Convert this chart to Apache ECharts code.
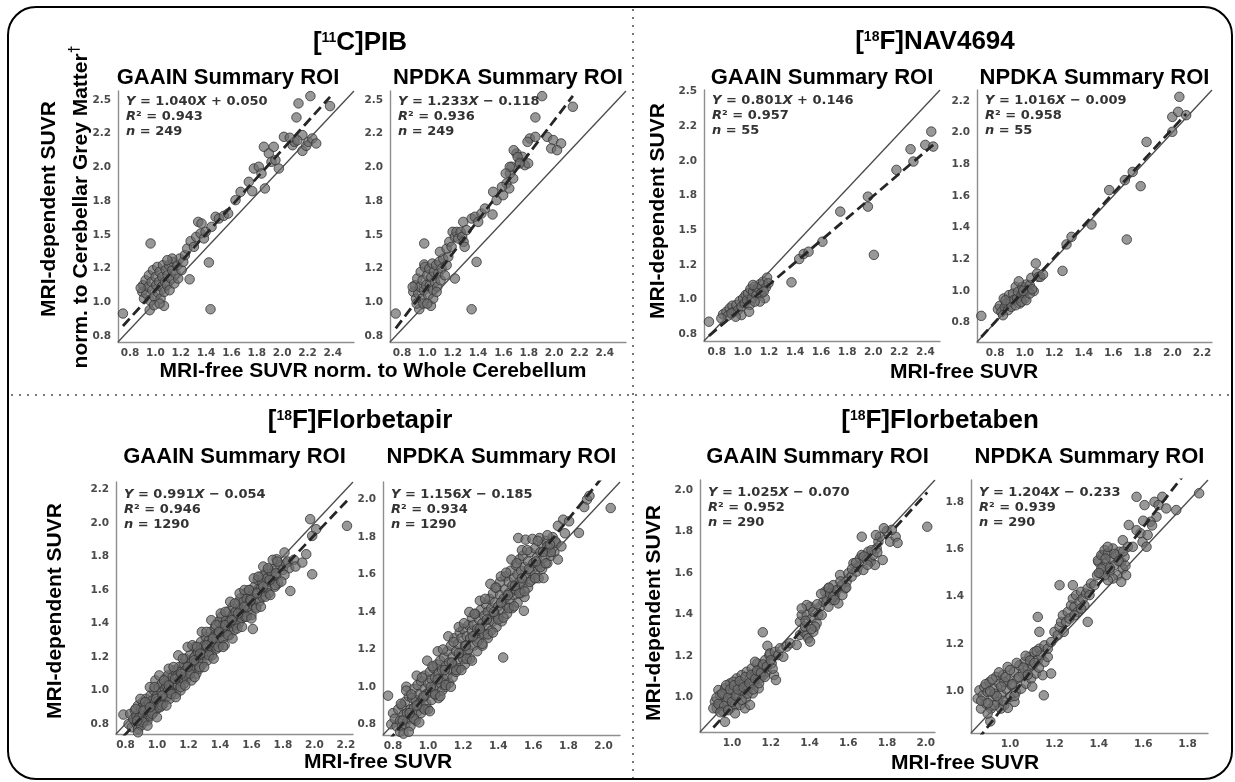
<!DOCTYPE html>
<html><head><meta charset="utf-8">
<script src="https://cdn.jsdelivr.net/npm/echarts@6/dist/echarts.min.js"></script>
<style>html,body{margin:0;padding:0;background:#fff}#c{width:1235px;height:782px}</style>
</head><body><div id="c"></div>
<script>
// ---------------- DATA ----------------
const tracers = ['[11C]PIB', '[18F]NAV4694', '[18F]Florbetapir', '[18F]Florbetaben'];
const roiNames = ['GAAIN Summary ROI', 'NPDKA Summary ROI'];
// shared x/y limits of each panel (A..H)
const limits = [[0.705,2.567],[0.705,2.567],[0.702,2.512],[0.677,2.268],[0.740,2.245],[0.743,2.094],[0.835,2.048],[0.824,1.892]];
const xTickVals = [
  [0.8,1.0,1.2,1.4,1.6,1.8,2.0,2.2,2.4],[0.8,1.0,1.2,1.4,1.6,1.8,2.0,2.2,2.4],[0.8,1.0,1.2,1.4,1.6,1.8,2.0,2.2,2.4],
  [0.8,1.0,1.2,1.4,1.6,1.8,2.0,2.2],[0.8,1.0,1.2,1.4,1.6,1.8,2.0,2.2],[0.8,1.0,1.2,1.4,1.6,1.8,2.0],
  [1.0,1.2,1.4,1.6,1.8,2.0],[1.0,1.2,1.4,1.6,1.8]];
const yTickVals = [
  [0.75,1.0,1.25,1.5,1.75,2.0,2.25,2.5],[0.75,1.0,1.25,1.5,1.75,2.0,2.25,2.5],[0.75,1.0,1.25,1.5,1.75,2.0,2.25,2.5],
  [0.8,1.0,1.2,1.4,1.6,1.8,2.0,2.2],[0.8,1.0,1.2,1.4,1.6,1.8,2.0,2.2],[0.8,1.0,1.2,1.4,1.6,1.8,2.0],
  [1.0,1.2,1.4,1.6,1.8,2.0],[1.0,1.2,1.4,1.6,1.8]];
const quarterTickText = ['0.8','1.0','1.2','1.5','1.8','2.0','2.2','2.5'];
const slopes = [1.040, 1.233, 0.801, 1.016, 0.991, 1.156, 1.025, 1.204];
const intercepts = [0.050, -0.118, 0.146, -0.009, -0.054, -0.185, -0.070, -0.233];
const r2Values = [0.943, 0.936, 0.957, 0.958, 0.946, 0.934, 0.952, 0.939];
const nValues = [249, 249, 55, 55, 1290, 1290, 290, 290];

const pibGaain = [[0.744,0.916],[0.962,1.436],[0.955,0.941],[1.068,0.973],[1.435,0.948],[1.422,1.295],[1.27,1.17],
[0.897,1.077],[0.902,1.126],[0.910,1.027],[0.923,1.163],[0.928,1.064],[0.944,1.114],[0.949,1.200],[0.955,1.015],[0.970,1.151],[0.976,1.089],[0.981,1.238],[0.991,1.040],[1.002,1.188],[1.007,1.126],[1.015,1.262],[1.018,1.072],[1.028,1.151],[1.033,1.225],[1.041,1.027],[1.049,1.114],[1.054,1.188],[1.060,1.275],[1.070,1.077],[1.075,1.151],[1.081,1.238],[1.091,1.126],[1.096,1.200],[1.107,1.275],[1.112,1.089],[1.123,1.176],[1.133,1.238],[1.138,1.299],[1.149,1.139],[1.159,1.213],[1.173,1.275],[1.180,1.176],[1.191,1.324],[1.207,1.238],[1.220,1.299],[1.233,1.349],[0.989,0.978],[1.033,0.990],[0.884,1.106],[1.133,1.324],[1.094,1.312],
[1.251,1.398],[1.278,1.453],[1.304,1.411],[1.322,1.485],[1.338,1.596],[1.364,1.584],[1.357,1.51],[1.383,1.473],[1.396,1.522],[1.443,1.559],[1.475,1.634],[1.501,1.621],[1.540,1.641],[1.574,1.658],[1.632,1.757],[1.672,1.819],[1.737,1.893],[1.764,1.824],[1.777,1.992],[1.816,2.005],[1.837,1.955],[1.856,2.153],[1.864,1.844],[1.895,2.104],[1.916,2.042],[1.934,2.153],[1.947,2.054],[1.974,1.992],
[2.014,2.227],[2.082,2.165],[2.098,2.19],[2.113,2.371],[2.129,2.475],[2.16,2.24],[2.16,2.123],[2.19,2.16],[2.207,2.19],[2.223,2.529],[2.238,2.215],[2.269,2.178],[2.378,2.455],[2.06,2.22],[2.12,2.2]];

const pibNpdka = [[0.750,0.916],[0.936,0.948],[1.028,0.973],[1.349,0.948],[0.975,1.436],[0.975,1.28],[1.217,1.176],[1.388,1.299],
[0.889,1.077],[0.902,1.126],[0.910,1.027],[0.920,1.176],[0.928,1.064],[0.941,1.114],[0.947,1.225],[0.957,1.027],[0.962,1.163],[0.973,1.089],[0.981,1.262],[0.989,1.126],[0.999,1.200],[1.007,1.052],[1.015,1.25],[1.020,1.126],[1.031,1.188],[1.039,1.287],[1.046,1.089],[1.052,1.225],[1.060,1.151],[1.068,1.275],[1.078,1.114],[1.086,1.213],[1.094,1.299],[1.104,1.163],[1.112,1.25],[1.125,1.324],[1.138,1.200],[1.152,1.275],[0.915,0.990],[0.968,0.990],[1.046,1.027],[0.884,1.114],[0.999,0.990],[1.073,1.077],[1.165,1.337],[1.099,1.374],
[1.152,1.398],[1.173,1.448],[1.191,1.411],[1.199,1.522],[1.217,1.485],[1.230,1.522],[1.243,1.473],[1.262,1.522],[1.275,1.485],[1.286,1.448],[1.294,1.411],[1.283,1.596],[1.309,1.535],[1.349,1.621],[1.375,1.634],[1.401,1.596],[1.427,1.658],[1.454,1.695],[1.514,1.651],[1.519,1.819],[1.546,1.757],[1.598,1.794],[1.624,1.881],[1.651,1.955],[1.664,2.005],[1.646,1.844],[1.677,1.918],[1.703,2.104],[1.729,2.042],[1.750,2.079],[1.769,2.017],[1.795,2.030],[1.808,2.215],
[1.852,2.371],[1.852,2.227],[1.905,2.529],[1.945,2.227],[1.993,2.203],[1.977,2.141],[2.055,2.178],[2.023,2.128],[2.148,2.45],[1.79,2.19],[1.681,2.128],[1.712,2.078],[1.65,2.004],[1.618,1.955],[1.588,1.855],[1.728,2.03]];

const navGaain = [[0.740,0.841],[0.848,0.894],[0.874,0.913],[0.899,0.938],[0.920,0.957],[0.886,0.885],[0.930,0.913],[0.950,0.962],[0.963,0.925],[0.976,0.990],[0.989,0.950],[1.002,1.010],[1.014,0.974],[1.022,1.034],[1.032,0.998],[1.040,1.046],[1.053,0.962],[1.058,1.077],[1.068,1.010],[1.078,1.058],[1.091,1.094],[1.104,1.034],[1.117,1.082],[1.130,1.111],[1.142,1.046],[1.155,1.130],[1.168,1.010],[1.176,1.087],[1.186,1.159],[1.196,1.118],[1.130,0.986],[1.091,0.986],[0.989,0.889],[0.945,0.877],[1.048,0.913],[1.160,1.058],[0.835,0.865],[0.912,0.901],[1.078,1.106],
[1.373,1.125],[1.432,1.293],[1.467,1.33],[1.504,1.346],[1.61,1.418],[1.747,1.635],[1.959,1.743],[1.959,1.671],[2.005,1.323],[2.178,1.936],[2.286,2.085],[2.308,1.996],[2.399,2.116],[2.445,2.212],[2.46,2.104]];

const navNpdka = [[0.706,0.842],[0.819,0.884],[0.831,0.905],[0.842,0.867],[0.858,0.952],[0.865,0.899],[0.876,0.920],[0.887,0.878],[0.894,0.973],[0.903,0.931],[0.910,0.899],[0.921,0.983],[0.926,0.941],[0.939,1.025],[0.948,0.952],[0.955,0.994],[0.966,0.920],[0.978,0.973],[0.984,1.025],[0.993,0.983],[1.000,0.952],[1.011,1.040],[1.023,1.004],[1.034,1.036],[1.045,1.082],[1.061,0.998],[1.075,1.173],[1.084,1.109],[1.093,1.088],[1.106,1.088],[1.124,1.103],[0.939,0.909],[0.978,0.931],[1.011,0.941],[0.853,0.846],[1.034,0.983],[0.96,1.06],[1.05,1.01],[0.99,1.00],[0.87,0.94],
[1.256,1.126],[1.283,1.293],[1.317,1.341],[1.452,1.419],[1.572,1.636],[1.691,1.324],[1.785,1.661],[1.731,1.751],[1.825,1.94],[1.999,2.004],[1.999,2.098],[2.039,2.13],[2.047,2.225],[2.093,2.109],[1.678,1.699]];

const fbpGaain = [[0.787,0.856],[0.861,0.816],
[0.82,0.80],[0.83,0.86],[0.84,0.78],[0.85,0.83],[0.86,0.88],[0.87,0.80],[0.87,0.85],[0.88,0.91],[0.88,0.77],
[0.89,0.84],[0.90,0.89],[0.90,0.79],[0.91,0.93],[0.91,0.85],[0.92,0.82],[0.93,0.90],[0.93,0.95],[0.94,0.86],[0.94,0.82],[0.95,0.92],[0.95,0.88],
[0.96,0.97],[0.96,0.85],[0.97,0.91],[0.97,0.94],[0.98,0.87],[0.98,1.00],[0.99,0.93],[1.00,0.97],[1.00,0.89],[1.01,1.02],[1.01,0.94],[1.02,0.90],[0.99,1.06],
[1.03,0.99],[1.03,1.04],[1.04,0.95],[1.04,0.92],[1.05,1.01],[1.05,1.07],[1.06,0.96],[1.06,1.03],[1.07,1.00],[1.07,1.09],[1.08,0.95],[1.08,1.05],
[1.09,1.02],[1.10,1.08],[1.10,0.99],[1.11,1.12],[1.11,1.04],[1.12,0.98],[1.13,1.09],[1.13,1.03],[1.14,1.14],[1.14,1.06],[1.15,1.00],[1.15,1.11],
[1.16,1.08],[1.17,1.16],[1.17,1.04],[1.18,1.12],[1.18,1.19],[1.19,1.07],[1.20,1.15],[1.20,1.09],[1.21,1.21],[1.21,1.12],[1.22,1.06],[1.22,1.17],
[1.23,1.14],[1.24,1.20],[1.24,1.26],[1.25,1.10],[1.25,1.17],[1.26,1.23],[1.27,1.19],[1.27,1.13],[1.28,1.25],[1.28,1.29],[1.29,1.21],[1.29,1.16],
[1.30,1.27],[1.31,1.22],[1.31,1.32],[1.32,1.18],[1.32,1.26],[1.33,1.30],[1.34,1.24],[1.34,1.35],[1.35,1.29],[1.35,1.21],[1.36,1.32],[1.36,1.27],
[1.37,1.38],[1.38,1.30],[1.38,1.25],[1.39,1.34],[1.39,1.41],[1.40,1.29],[1.41,1.36],[1.41,1.44],[1.42,1.31],[1.42,1.39],[1.43,1.27],[1.43,1.35],
[1.44,1.42],[1.45,1.37],[1.45,1.47],[1.46,1.33],[1.46,1.41],[1.47,1.38],[1.48,1.45],[1.48,1.50],[1.49,1.36],[1.49,1.42],[1.50,1.47],[1.50,1.39],
[1.51,1.52],[1.52,1.44],[1.52,1.40],[1.53,1.49],[1.53,1.55],[1.54,1.43],[1.55,1.47],[1.55,1.53],[1.56,1.58],[1.56,1.44],[1.57,1.50],[1.57,1.55],
[1.58,1.48],[1.59,1.53],[1.59,1.60],[1.60,1.45],[1.60,1.56],[1.609,1.367],[1.61,1.51],[1.62,1.62],[1.63,1.55],[1.63,1.50],[1.64,1.59],[1.64,1.66],[1.65,1.53],
[1.66,1.61],[1.66,1.68],[1.67,1.56],[1.67,1.64],[1.68,1.59],[1.69,1.70],[1.70,1.62],[1.70,1.67],[1.71,1.72],[1.71,1.58],[1.72,1.65],[1.73,1.70],
[1.74,1.66],[1.75,1.73],[1.75,1.62],[1.76,1.69],[1.77,1.64],[1.78,1.75],[1.80,1.72],[1.81,1.824],[1.82,1.76],[1.83,1.77],[1.84,1.73],[1.81,1.69],[1.847,1.594],
[1.87,1.78],[1.88,1.74],[1.923,1.764],[1.948,1.814],[1.986,1.694],[1.986,1.923],[2.011,1.963],[1.973,2.023],[1.76,1.784],[2.207,1.983],
[0.865,0.89],[0.895,0.95],[0.925,0.93],[0.955,1.02],[0.985,1.02],[1.015,1.09],[1.045,1.06],[1.075,1.13],[1.105,1.14],[1.135,1.21],[1.165,1.19],[1.195,1.26],
[1.225,1.27],[1.255,1.26],[1.285,1.35],[1.315,1.35],[1.345,1.42],[1.375,1.39],[1.405,1.46],[1.435,1.47],[1.465,1.53],[1.495,1.52],[1.525,1.58],[1.555,1.60],
[1.585,1.60],[1.615,1.67],[1.645,1.68],[1.675,1.74],[1.705,1.73],[1.735,1.78],[1.765,1.77],
[0.88,0.75],[0.91,0.81],[0.94,0.79],[0.97,0.86],[1.00,0.84],[1.03,0.91],[1.06,0.91],[1.09,0.98],[1.12,0.96],[1.15,1.02],[1.18,1.03],[1.21,1.10],
[1.24,1.08],[1.27,1.14],[1.30,1.14],[1.33,1.21],[1.36,1.19],[1.39,1.26],[1.42,1.26],[1.45,1.33],[1.48,1.31],[1.51,1.37],[1.54,1.38],[1.57,1.44],
[1.60,1.43],[1.63,1.49],[1.66,1.50],[1.69,1.56],[1.72,1.57],[1.75,1.63],[1.79,1.65],
[0.875,0.82],[0.915,0.88],[0.955,0.90],[0.995,0.95],[1.035,0.97],[1.075,1.03],[1.115,1.07],[1.155,1.10],[1.195,1.14],[1.235,1.18],[1.275,1.22],[1.315,1.27],
[1.355,1.31],[1.395,1.35],[1.435,1.39],[1.475,1.42],[1.515,1.46],[1.555,1.50],[1.595,1.54],[1.635,1.58],[1.675,1.62],[1.715,1.66],[1.755,1.70]];

const fbpNpdka = [[0.772,0.953],[0.876,1.001],
[0.79,0.80],[0.80,0.86],[0.82,0.79],[0.81,0.83],[0.83,0.88],[0.84,0.82],[0.84,0.76],[0.85,0.90],[0.85,0.79],[0.86,0.85],
[0.87,0.92],[0.87,0.80],[0.88,0.86],[0.89,0.83],[0.89,0.95],[0.90,0.88],[0.90,0.79],[0.91,0.94],[0.91,0.84],[0.92,0.99],[0.92,0.89],
[0.93,0.82],[0.93,0.93],[0.94,0.87],[0.94,1.01],[0.95,0.91],[0.95,0.96],[0.96,0.86],[0.96,1.03],[0.97,0.94],[0.97,0.89],[0.98,0.99],[0.98,1.06],
[0.99,0.91],[0.99,0.96],[1.00,1.02],[1.00,0.88],[1.01,0.97],[1.01,1.08],[1.02,0.93],[1.02,1.04],[1.03,0.99],[1.03,1.10],[1.04,0.96],[1.04,1.05],
[1.05,1.00],[1.05,1.12],[1.06,0.94],[1.06,1.07],[1.07,1.02],[1.07,1.14],[1.08,0.98],[1.08,1.09],[1.09,1.04],[1.09,1.16],[1.10,1.00],[1.10,1.11],
[1.11,1.06],[1.11,1.19],[1.12,1.13],[1.12,1.02],[1.13,1.09],[1.13,1.22],[1.14,1.16],[1.14,1.05],[1.15,1.11],[1.15,1.26],[1.16,1.08],[1.16,1.19],
[1.17,1.13],[1.17,1.23],[1.18,1.29],[1.18,1.10],[1.19,1.18],[1.19,1.26],[1.20,1.15],[1.20,1.31],[1.21,1.22],[1.21,1.12],[1.22,1.27],[1.22,1.18],
[1.23,1.33],[1.23,1.20],[1.24,1.26],[1.24,1.15],[1.25,1.30],[1.25,1.37],[1.26,1.22],[1.26,1.33],[1.27,1.28],[1.27,1.39],[1.28,1.19],[1.28,1.31],
[1.29,1.36],[1.29,1.25],[1.30,1.41],[1.30,1.30],[1.31,1.22],[1.31,1.34],[1.32,1.38],[1.32,1.28],[1.33,1.44],[1.33,1.33],[1.34,1.26],[1.34,1.40],
[1.35,1.47],[1.35,1.36],[1.36,1.30],[1.36,1.42],[1.37,1.50],[1.37,1.35],[1.38,1.45],[1.38,1.39],[1.39,1.32],[1.39,1.53],[1.40,1.43],[1.40,1.37],
[1.41,1.49],[1.41,1.56],[1.42,1.41],[1.42,1.35],[1.43,1.47],[1.428,1.157],[1.44,1.52],[1.44,1.59],[1.45,1.43],[1.45,1.39],[1.46,1.50],[1.46,1.56],
[1.47,1.46],[1.47,1.62],[1.48,1.54],[1.48,1.42],[1.49,1.58],[1.49,1.49],[1.50,1.65],[1.50,1.52],[1.51,1.45],[1.51,1.60],[1.52,1.56],[1.52,1.68],
[1.53,1.50],[1.53,1.62],[1.54,1.55],[1.54,1.70],[1.55,1.48],[1.55,1.64],[1.56,1.59],[1.57,1.67],[1.57,1.53],[1.58,1.62],[1.58,1.72],[1.59,1.57],
[1.60,1.66],[1.61,1.60],[1.61,1.74],[1.62,1.69],[1.63,1.58],[1.63,1.65],[1.64,1.72],[1.65,1.76],[1.65,1.63],[1.66,1.69],[1.67,1.78],[1.68,1.66],
[1.69,1.74],[1.70,1.70],[1.71,1.80],[1.72,1.72],[1.73,1.77],[1.74,1.68],
[1.546,1.406],[1.514,1.795],[1.556,1.786],[1.635,1.795],[1.68,1.81],[1.68,1.75],[1.725,1.777],[1.77,1.893],[1.804,1.884],[1.86,1.822],[1.906,2.0],[2.041,1.955],[1.658,1.581],[1.76,1.75],[1.78,1.82],[1.74,1.86],[1.92,2.02],[1.89,1.96],
[0.845,0.91],[0.875,0.98],[0.905,0.96],[0.935,1.06],[0.965,1.05],[0.995,1.14],[1.025,1.11],[1.055,1.19],[1.085,1.20],[1.115,1.27],[1.145,1.24],[1.175,1.32],
[1.205,1.34],[1.235,1.40],[1.265,1.39],[1.295,1.46],[1.325,1.47],[1.355,1.55],[1.385,1.53],[1.415,1.59],[1.445,1.61],[1.475,1.68],[1.505,1.66],[1.535,1.73],
[1.565,1.73],[1.595,1.79],[1.625,1.78],
[0.86,0.75],[0.89,0.76],[0.92,0.83],[0.95,0.81],[0.98,0.88],[1.01,0.87],[1.04,0.96],[1.07,0.95],[1.10,1.01],[1.13,1.00],[1.16,1.09],[1.19,1.09],
[1.22,1.15],[1.25,1.14],[1.28,1.24],[1.31,1.23],[1.34,1.28],[1.37,1.29],[1.40,1.36],[1.43,1.37],[1.46,1.42],[1.49,1.43],[1.52,1.50],[1.55,1.51],
[1.58,1.56],[1.61,1.58],[1.64,1.64],[1.67,1.66],[1.70,1.72],
[0.855,0.82],[0.895,0.86],[0.935,0.90],[0.975,0.95],[1.015,1.00],[1.055,1.04],[1.095,1.09],[1.135,1.13],[1.175,1.18],[1.215,1.22],[1.255,1.27],[1.295,1.31],
[1.335,1.36],[1.375,1.40],[1.415,1.45],[1.455,1.49],[1.495,1.54],[1.535,1.58],[1.575,1.63],[1.615,1.67],[1.655,1.72],[1.695,1.76]];

const fbbGaain = [[0.912,0.981],[0.921,0.949],[0.930,1.037],[0.938,0.965],[0.947,1.005],[0.955,0.933],[0.964,1.045],[0.973,0.981],[0.981,1.021],[0.990,0.949],[0.990,1.069],[0.998,0.997],[1.007,1.037],[1.016,0.965],[1.024,1.093],[1.028,1.013],[1.038,1.061],[1.042,0.965],[1.050,1.109],[1.055,1.021],[1.062,1.069],[1.072,0.997],[1.076,1.125],[1.085,1.045],[1.093,1.093],[1.102,1.141],[1.107,1.021],[1.114,1.069],[1.124,1.117],[1.131,1.165],[1.138,1.045],[1.145,1.093],[1.153,1.149],[1.162,1.109],[1.171,1.181],[1.179,1.125],[1.193,1.205],[1.205,1.165],[1.217,1.109],[1.227,1.085],[0.964,0.884],[1.016,0.925],[0.904,0.949],[1.067,0.949],[1.093,0.965],[0.938,1.013],[1.007,1.077],[1.119,1.173],
[1.159,1.315],[1.183,1.25],
[1.196,1.213],[1.222,1.221],[1.239,1.205],[1.248,1.238],[1.265,1.197],[1.282,1.246],[1.300,1.262],[1.334,1.254],[1.351,1.302],[1.369,1.318],[1.351,1.366],[1.360,1.398],[1.386,1.398],[1.403,1.438],[1.412,1.382],[1.420,1.414],[1.386,1.302],[1.394,1.286],[1.420,1.318],[1.437,1.358],[1.446,1.398],[1.455,1.438],[1.472,1.462],[1.480,1.51],[1.489,1.478],[1.498,1.526],[1.506,1.502],[1.523,1.542],[1.532,1.494],[1.541,1.518],[1.558,1.591],[1.566,1.542],[1.584,1.526],[1.592,1.559],[1.601,1.599],[1.618,1.583],[1.627,1.647],[1.644,1.607],[1.652,1.631],[1.661,1.671],[1.670,1.687],[1.678,1.615],[1.696,1.663],[1.704,1.703],[1.716,1.655],[1.730,1.687],[1.738,1.639],[1.747,1.719],[1.756,1.751],[1.764,1.775],[1.778,1.663],[1.670,1.775],[1.799,1.802],[1.816,1.751],
[1.377,1.342],[1.429,1.342],[1.403,1.27],[1.386,1.446],[1.463,1.398],[1.515,1.47],[1.549,1.454],[1.57,1.494],[1.498,1.438],[1.523,1.486],
[2.008,1.823],[1.845,1.775],[1.855,1.745],[1.825,1.808],[1.784,1.816],[1.743,1.783],
[0.92,1.00],[0.93,0.97],[0.95,1.02],[0.96,0.96],[0.97,1.06],[0.98,1.00],[0.99,1.04],[1.00,0.98],[1.01,1.06],[1.02,1.01],[1.03,1.04],[1.04,1.08],[1.05,0.99],
[1.06,1.05],[1.07,1.10],[1.08,1.02],[1.09,1.07],[1.10,1.11],[1.11,1.04],[1.12,1.09],[1.13,1.13],[1.14,1.07],[1.15,1.12],[1.16,1.16],[1.17,1.10],[1.18,1.15],
[1.20,1.18],[1.21,1.14],[0.94,0.93],[0.98,0.94],
[1.44,1.45],[1.46,1.50],[1.50,1.53],[1.53,1.47],[1.56,1.56],[1.59,1.53],[1.62,1.62],[1.64,1.65],[1.68,1.68],[1.70,1.64],[1.72,1.71],[1.75,1.70],[1.38,1.37],[1.41,1.33],[1.36,1.43]];

const fbbNpdka = [[0.854,0.969],[0.862,1.004],[0.869,0.927],[0.877,0.983],[0.884,1.018],[0.892,0.948],[0.899,0.997],[0.907,1.039],[0.914,0.927],[0.922,0.976],[0.929,1.011],[0.937,1.061],[0.944,0.955],[0.952,1.032],[0.959,0.990],[0.967,1.068],[0.974,0.941],[0.982,1.011],[0.989,1.103],[0.992,1.046],[1.001,0.976],[1.007,1.025],[1.017,1.082],[1.027,0.997],[1.035,1.054],[1.042,1.110],[1.050,1.011],[1.057,1.075],[1.065,1.124],[1.072,1.032],[1.080,1.096],[1.087,1.145],[1.095,1.054],[1.102,1.110],[1.110,1.166],[1.117,1.075],[1.125,1.131],[1.132,1.180],[1.147,1.068],[0.911,0.873],[0.899,0.906],[0.959,0.927],[1.020,0.955],[0.929,0.941],[0.974,1.039],[1.140,1.152],[1.155,1.124],[1.170,1.145],
[1.125,1.314],[1.132,1.251],[1.223,1.448],[1.283,1.448],[1.185,1.075],[1.152,0.983],
[1.155,1.194],[1.170,1.180],[1.185,1.208],[1.200,1.251],[1.215,1.237],[1.223,1.272],[1.230,1.293],[1.238,1.321],[1.242,1.251],[1.253,1.293],[1.260,1.335],[1.268,1.307],[1.275,1.363],[1.283,1.391],[1.290,1.356],[1.298,1.406],[1.305,1.335],[1.313,1.377],[1.320,1.420],[1.328,1.391],[1.335,1.363],[1.343,1.413],[1.350,1.434],[1.358,1.406],[1.365,1.455],[1.350,1.293],[1.380,1.448],[1.392,1.490],[1.398,1.546],[1.408,1.497],[1.418,1.575],[1.29,1.321],[1.32,1.349],
[1.396,1.553],[1.411,1.575],[1.418,1.525],[1.426,1.596],[1.433,1.539],[1.441,1.582],[1.448,1.504],[1.456,1.560],[1.463,1.603],[1.471,1.532],[1.478,1.575],[1.486,1.490],[1.493,1.589],[1.501,1.546],[1.508,1.518],[1.516,1.567],[1.523,1.490],[1.531,1.610],[1.501,1.462],[1.463,1.476],[1.441,1.469],[1.426,1.490],[1.411,1.518],
[1.570,1.821],[1.606,1.786],[1.651,1.800],[1.669,1.786],[1.686,1.821],[1.704,1.772],[1.660,1.737],[1.633,1.716],[1.749,1.765],[1.852,1.836],[1.588,1.667],[1.57,1.68],[1.535,1.702],[1.553,1.61],[1.597,1.631],[1.508,1.638],[1.615,1.61],
[0.87,0.96],[0.89,1.03],[0.90,0.95],[0.92,1.05],[0.93,0.99],[0.95,1.08],[0.96,1.02],[0.97,0.96],[0.98,1.06],[1.00,1.09],[1.01,1.03],[1.02,0.98],[1.03,1.12],
[1.04,1.06],[1.06,1.10],[1.07,1.15],[1.08,1.07],[1.09,1.13],[1.10,1.02],[1.11,1.12],[1.12,1.17],[1.13,1.10],[0.94,0.98],[0.91,1.00],[0.99,0.93],
[1.43,1.56],[1.45,1.52],[1.47,1.58],[1.49,1.55],[1.51,1.59],[1.44,1.61],[1.40,1.50],[1.52,1.53],[1.62,1.66],[1.64,1.70],[1.60,1.72]];

const panelData = [pibGaain, pibNpdka, navGaain, navNpdka, fbpGaain, fbpNpdka, fbbGaain, fbbNpdka];

// ---------------- LAYOUT ----------------
const grids = [
  {left:118, top:91, width:236, height:251},
  {left:390, top:91, width:236, height:251},
  {left:704, top:90, width:236, height:251},
  {left:977, top:90, width:235, height:252},
  {left:116, top:482, width:237, height:252},
  {left:383, top:482, width:237, height:253},
  {left:700, top:480, width:235, height:252},
  {left:971, top:480, width:237, height:253}
];
const tickFont = {fontFamily:'DejaVu Sans', fontWeight:'bold', fontSize:10.5, color:'#4a4a4a'};
const headFont = '"Liberation Sans", Arial, sans-serif';

function labeler(vals, texts) {
  return function (v) {
    for (let k = 0; k < vals.length; k++) {
      if (Math.abs(vals[k] - v) < 1e-6) return texts ? texts[k] : vals[k].toFixed(1);
    }
    return '';
  };
}

const xAxes = [], yAxes = [], series = [], graphics = [];
for (let i = 0; i < 8; i++) {
  const lim = limits[i];
  const axisLine = {show:true, onZero:false, lineStyle:{color:'#8e8e8e', width:1.4}};
  xAxes.push({gridIndex:i, type:'value', min:lim[0], max:lim[1], axisLine, axisTick:{show:false}, splitLine:{show:false},
    axisLabel:Object.assign({customValues:xTickVals[i], margin:6, formatter:labeler(xTickVals[i], null)}, tickFont)});
  yAxes.push({gridIndex:i, type:'value', min:lim[0], max:lim[1], axisLine, axisTick:{show:false}, splitLine:{show:false},
    axisLabel:Object.assign({customValues:yTickVals[i], margin:7, formatter:labeler(yTickVals[i], i < 3 ? quarterTickText : null)}, tickFont)});
  // identity line
  series.push({type:'line', xAxisIndex:i, yAxisIndex:i, data:[[lim[0],lim[0]],[lim[1],lim[1]]], symbol:'none', silent:true,
    lineStyle:{color:'#4a4a4a', width:1.3}, z:2, animation:false});
  series.push({type:'scatter', xAxisIndex:i, yAxisIndex:i, data:panelData[i], symbolSize:9.5, silent:true,
    itemStyle:{color:'rgba(108,108,108,0.88)', borderColor:'#333', borderWidth:1}, z:3, animation:false});
  const xs = panelData[i].map(p => p[0]);
  const x0 = Math.min.apply(null, xs), x1 = Math.max.apply(null, xs);
  series.push({type:'line', xAxisIndex:i, yAxisIndex:i, clip:true, symbol:'none', silent:true,
    data:[[x0, slopes[i]*x0 + intercepts[i]],[x1, slopes[i]*x1 + intercepts[i]]],
    lineStyle:{color:'#262626', width:2.8, type:[10,5]}, z:4, animation:false});
  // annotation
  const g = grids[i];
  const b = intercepts[i];
  const eq = '{i|Y}{t| = ' + slopes[i].toFixed(3) + '}{i|X}{t| ' + (b < 0 ? '\u2212' : '+') + ' ' + Math.abs(b).toFixed(3) + '}';
  const rr = '{i|R}{t|\u00b2 = ' + r2Values[i].toFixed(3) + '}';
  const nn = '{i|n}{t| = ' + nValues[i] + '}';
  const tStyle = {fontFamily:'DejaVu Sans', fontWeight:'bold', fontSize:13, fill:'#333', lineHeight:15};
  const iStyle = Object.assign({}, tStyle, {fontStyle:'italic'});
  graphics.push({type:'text', x:g.left + 8, y:g.top + (i < 4 ? 3 : 5), z:10,
    style:{text: eq + '\n' + rr + '\n' + nn, rich:{t:tStyle, i:iStyle}, fontFamily:'DejaVu Sans', fontWeight:'bold', fontSize:13, lineHeight:15, fill:'#333'}});
  // subtitle
  graphics.push({type:'text', x:(i === 0 ? 228 : g.left + g.width/2), y:(i < 4 ? 78 : 457), z:10,
    style:{text: roiNames[i % 2], fontFamily:headFont, fontWeight:'bold', fontSize:22, fill:'#000', align:'center', verticalAlign:'middle'}});
}

// tracer titles with superscripts
const titlePos = [[360,43],[935,42],[360,421],[940,421]];
tracers.forEach((t, k) => {
  const m = t.match(/^\[(\d+)([A-Z])\](.*)$/);
  const big = {fontFamily:headFont, fontWeight:'bold', fontSize:26, fill:'#000', lineHeight:30};
  const sup = {fontFamily:headFont, fontWeight:'bold', fontSize:14, fill:'#000', lineHeight:30, verticalAlign:'top', padding:[3,0,0,0]};
  graphics.push({type:'text', x:titlePos[k][0], y:titlePos[k][1], z:10,
    style:{text:'{b|[}{s|' + m[1] + '}{b|' + m[2] + ']' + m[3] + '}', rich:{b:big, s:sup}, align:'center', verticalAlign:'middle'}});
});

// axis titles
const axFont = {fontFamily:headFont, fontWeight:'bold', fontSize:21, fill:'#000', align:'center', verticalAlign:'middle'};
[[49,209,'MRI-dependent SUVR'],[658,211,'MRI-dependent SUVR'],[55,611,'MRI-dependent SUVR'],[654,613,'MRI-dependent SUVR']].forEach(a => {
  graphics.push({type:'text', x:a[0], y:a[1], rotation:Math.PI/2, z:10, style:Object.assign({text:a[2]}, axFont)});
});
graphics.push({type:'text', x:81, y:207, rotation:Math.PI/2, z:10,
  style:{text:'{a|norm. to Cerebellar Grey Matter}{d|\u2020}', align:'center', verticalAlign:'middle',
    rich:{a:{fontFamily:headFont, fontWeight:'bold', fontSize:21, fill:'#000', lineHeight:26},
          d:{fontFamily:headFont, fontWeight:'bold', fontSize:14, fill:'#000', lineHeight:26, verticalAlign:'top'}}}});
[[373,371,'MRI-free SUVR norm. to Whole Cerebellum'],[964,372,'MRI-free SUVR'],[378,762,'MRI-free SUVR'],[965,763,'MRI-free SUVR']].forEach(a => {
  graphics.push({type:'text', x:a[0], y:a[1], z:10, style:Object.assign({text:a[2]}, axFont)});
});

// frame and dotted dividers
graphics.push({type:'rect', shape:{x:8, y:7, width:1224, height:772, r:28}, z:0, style:{fill:'none', stroke:'#000', lineWidth:2}});
graphics.push({type:'line', shape:{x1:11, y1:395, x2:1230, y2:395}, z:0, style:{stroke:'#777', lineWidth:2, lineDash:[2,6]}});
graphics.push({type:'line', shape:{x1:633, y1:9, x2:633, y2:778}, z:0, style:{stroke:'#777', lineWidth:2, lineDash:[2,6]}});

const chart = echarts.init(document.getElementById('c'), null, {renderer:'canvas'});
chart.setOption({
  animation:false,
  backgroundColor:'#fff',
  grid: grids,
  xAxis: xAxes,
  yAxis: yAxes,
  series: series,
  graphic: graphics
});
</script>
</body></html>
